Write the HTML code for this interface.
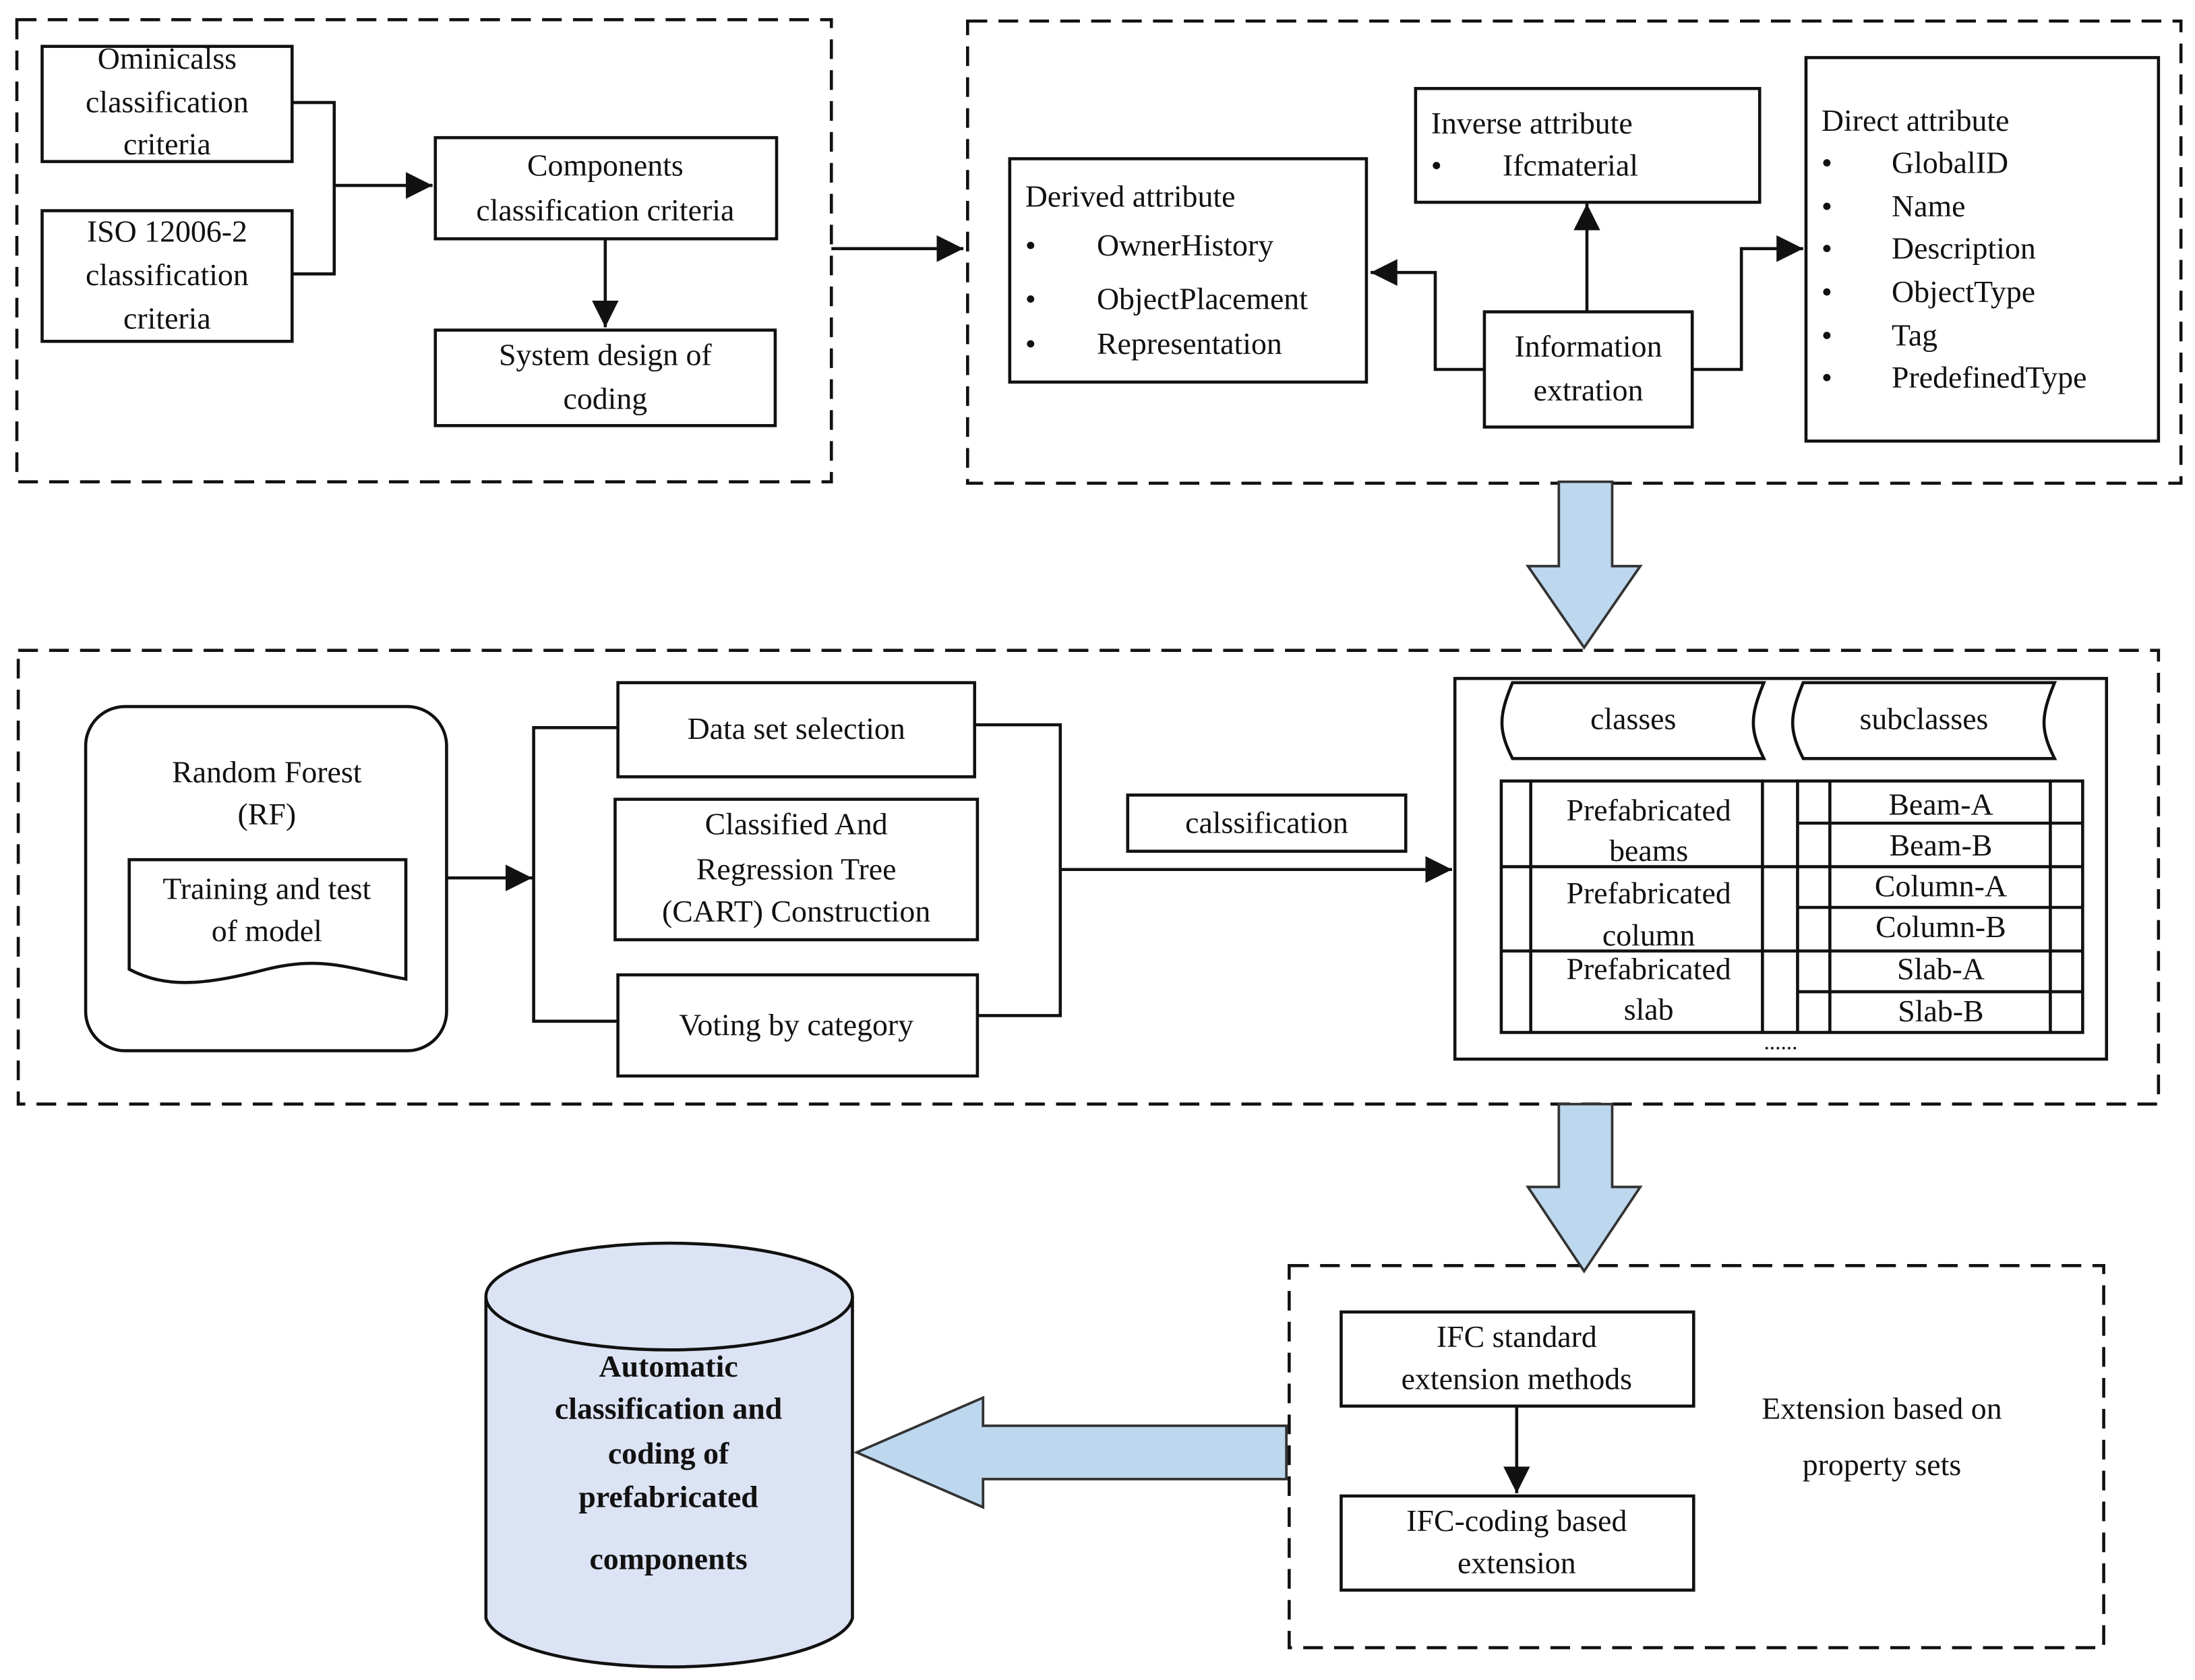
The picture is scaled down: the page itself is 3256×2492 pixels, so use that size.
<!DOCTYPE html>
<html><head><meta charset="utf-8"><style>
html,body{margin:0;padding:0;background:#fff;}
svg{display:block;}
text{font-family:"Liberation Serif",serif;font-size:22px;fill:#111;}
.c{text-anchor:middle;}
</style></head><body>
<svg width="3256" height="2492" viewBox="0 0 1563 1196" preserveAspectRatio="none" xmlns="http://www.w3.org/2000/svg">
<defs><marker id="a" viewBox="0 0 10 10" refX="10" refY="5" markerWidth="5" markerHeight="5" orient="auto" markerUnits="userSpaceOnUse"><path d="M0,0L10,5L0,10z" fill="#111"/></marker>
<marker id="b" viewBox="0 0 10 10" refX="10" refY="5" markerWidth="19" markerHeight="19" orient="auto" markerUnits="userSpaceOnUse"><path d="M0,0L10,5L0,10z" fill="#111"/></marker></defs>
<g fill="none" stroke="#111" stroke-width="2.2">
<g stroke-dasharray="14,8">
<rect x="12" y="14" width="580" height="329"/>
<rect x="689" y="15" width="864" height="329"/>
<rect x="13" y="463" width="1524" height="323"/>
<rect x="918" y="901" width="580" height="272"/>
</g>
<rect x="30" y="33" width="178" height="82"/>
<rect x="30" y="150" width="178" height="93"/>
<rect x="310" y="98" width="243" height="72"/>
<rect x="310" y="235" width="242" height="68"/>
<polyline points="208,73 238,73 238,195 208,195"/>
<line x1="238" y1="132" x2="308" y2="132" marker-end="url(#b)"/>
<line x1="431" y1="170" x2="431" y2="233" marker-end="url(#b)"/>
<line x1="592" y1="177" x2="686" y2="177" marker-end="url(#b)"/>
<rect x="719" y="113" width="254" height="159"/>
<rect x="1008" y="63" width="245" height="81"/>
<rect x="1286" y="41" width="251" height="273"/>
<rect x="1057" y="222" width="148" height="82"/>
<polyline points="1057,263 1022,263 1022,194 976,194" marker-end="url(#b)"/>
<line x1="1130" y1="222" x2="1130" y2="145" marker-end="url(#b)"/>
<polyline points="1205,263 1240,263 1240,177 1284,177" marker-end="url(#b)"/>
<rect x="61" y="503" width="257" height="245" rx="28"/>
<path d="M92,612H289V697C250,690 230,680 190,690C150,700 120,705 92,690Z"/>
<line x1="318" y1="625" x2="379" y2="625" marker-end="url(#b)"/>
<polyline points="440,518 380,518 380,727 440,727"/>
<rect x="440" y="486" width="254" height="67"/>
<rect x="438" y="569" width="258" height="100"/>
<rect x="440" y="694" width="256" height="72"/>
<polyline points="694,516 755,516 755,723 696,723"/>
<line x1="755" y1="619" x2="1034" y2="619" marker-end="url(#b)"/>
<rect x="803" y="566" width="198" height="40"/>
<rect x="1036" y="483" width="464" height="271"/>
<path d="M1077,486H1256C1246,510 1246,520 1256,540H1077C1067,520 1067,510 1077,486Z"/>
<path d="M1284,486H1463C1453,510 1453,520 1463,540H1284C1274,520 1274,510 1284,486Z"/>
<rect x="1069" y="556" width="186" height="179"/>
<line x1="1090" y1="556" x2="1090" y2="735"/>
<line x1="1069" y1="617" x2="1255" y2="617"/><line x1="1069" y1="677" x2="1255" y2="677"/>
<line x1="1255" y1="556" x2="1280" y2="556"/><line x1="1255" y1="735" x2="1280" y2="735"/>
<line x1="1255" y1="617" x2="1280" y2="617"/><line x1="1255" y1="677" x2="1280" y2="677"/>
<rect x="1280" y="556" width="203" height="179"/>
<line x1="1303" y1="556" x2="1303" y2="735"/><line x1="1460" y1="556" x2="1460" y2="735"/>
<line x1="1280" y1="586" x2="1483" y2="586"/><line x1="1280" y1="617" x2="1483" y2="617"/>
<line x1="1280" y1="646" x2="1483" y2="646"/><line x1="1280" y1="677" x2="1483" y2="677"/>
<line x1="1280" y1="706" x2="1483" y2="706"/>
<rect x="955" y="934" width="251" height="67"/>
<rect x="955" y="1065" width="251" height="67"/>
<line x1="1080" y1="1001" x2="1080" y2="1063" marker-end="url(#b)"/>
</g>
<g fill="#bdd7ee" stroke="#333" stroke-width="1.8">
<path d="M1110,343H1148V403H1168L1128,461L1088,403H1110Z"/>
<path d="M1110,786H1148V845H1168L1128,905L1088,845H1110Z"/>
<path d="M916,1015H700V995L610,1034L700,1073V1053H916Z"/>
</g>
<g stroke="#111" stroke-width="2.2" fill="#dce3f4">
<path d="M346,923V1152A131,38 0 0 0 607,1152V923"/>
<ellipse cx="476.5" cy="923" rx="130.5" ry="38"/>
</g>
<text class="c" x="119" y="49">Ominicalss</text>
<text class="c" x="119" y="80">classification</text>
<text class="c" x="119" y="110">criteria</text>
<text class="c" x="119" y="172">ISO 12006-2</text>
<text class="c" x="119" y="203">classification</text>
<text class="c" x="119" y="234">criteria</text>
<text class="c" x="431" y="125">Components</text>
<text class="c" x="431" y="157">classification criteria</text>
<text class="c" x="431" y="260">System design of</text>
<text class="c" x="431" y="291">coding</text>
<text x="730" y="147">Derived attribute</text>
<text x="730" y="182">•</text><text x="781" y="182">OwnerHistory</text>
<text x="730" y="220">•</text><text x="781" y="220">ObjectPlacement</text>
<text x="730" y="252">•</text><text x="781" y="252">Representation</text>
<text x="1019" y="95">Inverse attribute</text>
<text x="1019" y="125">•</text><text x="1070" y="125">Ifcmaterial</text>
<text x="1297" y="93">Direct attribute</text>
<text x="1297" y="123">•</text><text x="1347" y="123">GlobalID</text>
<text x="1297" y="154">•</text><text x="1347" y="154">Name</text>
<text x="1297" y="184">•</text><text x="1347" y="184">Description</text>
<text x="1297" y="215">•</text><text x="1347" y="215">ObjectType</text>
<text x="1297" y="246">•</text><text x="1347" y="246">Tag</text>
<text x="1297" y="276">•</text><text x="1347" y="276">PredefinedType</text>
<text class="c" x="1131" y="254">Information</text>
<text class="c" x="1131" y="285">extration</text>
<text class="c" x="190" y="557">Random Forest</text>
<text class="c" x="190" y="587">(RF)</text>
<text class="c" x="190" y="640">Training and test</text>
<text class="c" x="190" y="670">of model</text>
<text class="c" x="567" y="526">Data set selection</text>
<text class="c" x="567" y="594">Classified And</text>
<text class="c" x="567" y="626">Regression  Tree</text>
<text class="c" x="567" y="656">(CART) Construction</text>
<text class="c" x="567" y="737">Voting by category</text>
<text class="c" x="902" y="593">calssification</text>
<text class="c" x="1163" y="519">classes</text>
<text class="c" x="1370" y="519">subclasses</text>
<text class="c" x="1174" y="584">Prefabricated</text>
<text class="c" x="1174" y="613">beams</text>
<text class="c" x="1174" y="643">Prefabricated</text>
<text class="c" x="1174" y="673">column</text>
<text class="c" x="1174" y="697">Prefabricated</text>
<text class="c" x="1174" y="726">slab</text>
<text class="c" x="1382" y="580">Beam-A</text>
<text class="c" x="1382" y="609">Beam-B</text>
<text class="c" x="1382" y="638">Column-A</text>
<text class="c" x="1382" y="667">Column-B</text>
<text class="c" x="1382" y="697">Slab-A</text>
<text class="c" x="1382" y="727">Slab-B</text>
<text class="c" x="1268" y="747" style="font-size:16px">......</text>
<text class="c" x="1080" y="959">IFC standard</text>
<text class="c" x="1080" y="989">extension methods</text>
<text class="c" x="1080" y="1090">IFC-coding based</text>
<text class="c" x="1080" y="1120">extension</text>
<text class="c" x="1340" y="1010">Extension based on</text>
<text class="c" x="1340" y="1050">property sets</text>
<g style="font-weight:bold">
<text class="c" x="476" y="980" style="font-weight:bold">Automatic</text>
<text class="c" x="476" y="1010" style="font-weight:bold">classification and</text>
<text class="c" x="476" y="1042" style="font-weight:bold">coding  of</text>
<text class="c" x="476" y="1073" style="font-weight:bold">prefabricated</text>
<text class="c" x="476" y="1117" style="font-weight:bold">components</text>
</g>
</svg>
</body></html>
